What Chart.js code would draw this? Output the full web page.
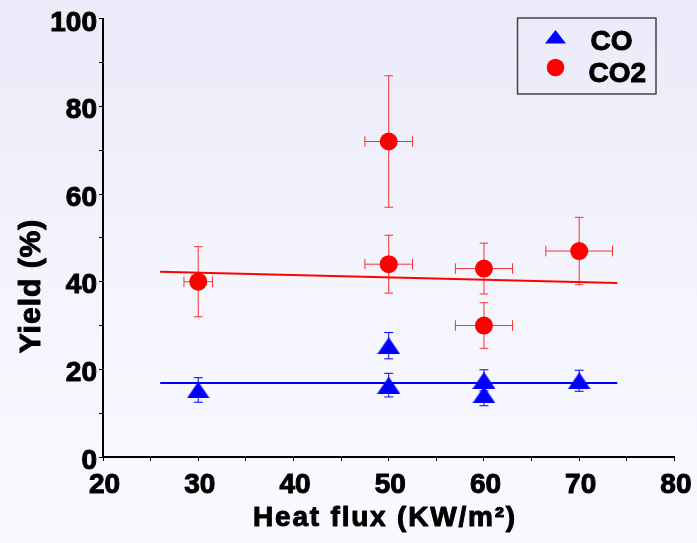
<!DOCTYPE html>
<html><head><meta charset="utf-8">
<script src="https://cdn.jsdelivr.net/npm/chart.js@4"></script>
<style>html,body{margin:0;padding:0;background:#f6f6fd;}#wrap{width:697px;height:543px;position:relative;}</style>
</head><body><div id="wrap"><canvas id="c" width="697" height="543"></canvas></div>
<script>
const xTicks = [20, 30, 40, 50, 60, 70, 80];
const yTicks = [0, 20, 40, 60, 80, 100];
const seriesNames = ['CO', 'CO2'];
const coX = [30, 50, 50, 60, 60, 70];
const coY = [15.3, 25.4, 16.4, 17.5, 14.2, 17.4];
const coYErr = [2.8, 3.0, 2.7, 2.4, 2.5, 2.4];
const co2X = [30, 50, 50, 60, 60, 70];
const co2Y = [40, 72, 44, 43, 30, 47];
const co2YErr = [8, 15, 6.6, 5.8, 5.2, 7.7];
const co2XErr = [1.5, 2.5, 2.5, 3, 3, 3.5];
const coFitX = [26, 74];
const coFitY = [16.9, 16.9];
const co2FitX = [26, 74];
const co2FitY = [42.3, 39.7];
const xTitle = 'Heat flux (KW/m²)';
const yTitle = 'Yield (%)';

const FONT = '"Liberation Sans", Arial, sans-serif';
const RED = '#ff0000', BLUE = '#0000ff';

function triImg(w, h, color) {
  const c = document.createElement('canvas');
  c.width = w; c.height = h;
  const g = c.getContext('2d');
  g.fillStyle = color;
  g.beginPath(); g.moveTo(w / 2, 0); g.lineTo(w, h); g.lineTo(0, h); g.closePath(); g.fill();
  return c;
}
const tri = triImg(23, 17, BLUE);

const bgPlugin = {
  id: 'bg',
  beforeDraw(chart) {
    const ctx = chart.ctx;
    const g = ctx.createLinearGradient(0, 0, 0, chart.height);
    g.addColorStop(0, '#eaeaf9');
    g.addColorStop(0.5, '#f4f4fd');
    g.addColorStop(1, '#f9f9ff');
    ctx.save(); ctx.fillStyle = g; ctx.fillRect(0, 0, chart.width, chart.height); ctx.restore();
  }
};

const errPlugin = {
  id: 'errs',
  beforeDatasetsDraw(chart) {
    const { ctx, scales: { x, y } } = chart;
    ctx.save();
    ctx.lineWidth = 1;
    ctx.strokeStyle = 'rgba(255,0,0,0.8)';
    for (let i = 0; i < co2X.length; i++) {
      const px = x.getPixelForValue(co2X[i]);
      const py = y.getPixelForValue(co2Y[i]);
      const t = y.getPixelForValue(co2Y[i] + co2YErr[i]);
      const b = y.getPixelForValue(co2Y[i] - co2YErr[i]);
      const l = x.getPixelForValue(co2X[i] - co2XErr[i]);
      const r = x.getPixelForValue(co2X[i] + co2XErr[i]);
      ctx.beginPath();
      ctx.moveTo(px, t); ctx.lineTo(px, b);
      ctx.moveTo(px - 4.3, t); ctx.lineTo(px + 4.3, t);
      ctx.moveTo(px - 4.3, b); ctx.lineTo(px + 4.3, b);
      ctx.moveTo(l, py); ctx.lineTo(r, py);
      ctx.moveTo(l, py - 5.3); ctx.lineTo(l, py + 5.3);
      ctx.moveTo(r, py - 5.3); ctx.lineTo(r, py + 5.3);
      ctx.stroke();
    }
    ctx.strokeStyle = BLUE;
    for (let i = 0; i < coX.length; i++) {
      const px = x.getPixelForValue(coX[i]);
      const t = y.getPixelForValue(coY[i] + coYErr[i]);
      const b = y.getPixelForValue(coY[i] - coYErr[i]);
      ctx.beginPath();
      ctx.moveTo(px, t); ctx.lineTo(px, b);
      ctx.moveTo(px - 4.5, t); ctx.lineTo(px + 4.5, t);
      ctx.moveTo(px - 4.5, b); ctx.lineTo(px + 4.5, b);
      ctx.stroke();
    }
    ctx.restore();
  }
};

function boldText(ctx, s, x, y) {
  ctx.fillText(s, x, y);
  ctx.strokeText(s, x, y);
}

const annoPlugin = {
  id: 'anno',
  afterDraw(chart) {
    const ctx = chart.ctx;
    ctx.save();
    ctx.fillStyle = '#000';
    ctx.strokeStyle = '#000';
    ctx.lineWidth = 1;
    ctx.lineJoin = 'round';
    ctx.font = 'bold 28px ' + FONT;
    ctx.letterSpacing = '1.8px';
    ctx.textAlign = 'center';
    ctx.textBaseline = 'alphabetic';
    boldText(ctx, xTitle, 385, 526);
    ctx.save();
    ctx.font = 'bold 30px ' + FONT;
    ctx.letterSpacing = '1px';
    ctx.translate(40, 286);
    ctx.rotate(-Math.PI / 2);
    boldText(ctx, yTitle, 0, 0);
    ctx.restore();
    ctx.letterSpacing = '0px';
    // legend
    ctx.strokeStyle = '#444';
    ctx.lineWidth = 1.5;
    ctx.strokeRect(517.5, 18, 138.5, 76);
    ctx.fillStyle = BLUE;
    ctx.beginPath(); ctx.moveTo(555.5, 30); ctx.lineTo(566, 43.5); ctx.lineTo(545, 43.5); ctx.closePath(); ctx.fill();
    ctx.fillStyle = RED;
    ctx.beginPath(); ctx.arc(555.5, 67.5, 8.8, 0, Math.PI * 2); ctx.fill();
    ctx.fillStyle = '#000';
    ctx.strokeStyle = '#000';
    ctx.lineWidth = 1;
    ctx.font = 'bold 28px ' + FONT;
    ctx.textAlign = 'left';
    boldText(ctx, seriesNames[0], 590.5, 50);
    boldText(ctx, seriesNames[1], 588.5, 81.5);
    ctx.restore();
  }
};

const pts = (xs, ys) => xs.map((v, i) => ({ x: v, y: ys[i] }));

new Chart(document.getElementById('c'), {
  type: 'scatter',
  data: {
    datasets: [
      { label: seriesNames[1], data: pts(co2X, co2Y), pointStyle: 'circle', pointRadius: 9, pointHoverRadius: 9, backgroundColor: RED, borderColor: RED, borderWidth: 0, order: 1 },
      { label: seriesNames[0], data: pts(coX, coY), pointStyle: tri, pointRadius: 10, backgroundColor: BLUE, borderColor: BLUE, borderWidth: 0, order: 2 },
      { type: 'line', label: 'CO2 fit', data: pts(co2FitX, co2FitY), borderColor: RED, borderWidth: 2, pointRadius: 0, fill: false, order: 3 },
      { type: 'line', label: 'CO fit', data: pts(coFitX, coFitY), borderColor: BLUE, borderWidth: 2, pointRadius: 0, fill: false, order: 4 }
    ]
  },
  options: {
    responsive: false,
    devicePixelRatio: 1,
    animation: false,
    layout: { padding: { top: 17, right: 20, left: 0, bottom: 0 } },
    plugins: { legend: { display: false }, tooltip: { enabled: false } },
    scales: {
      x: {
        type: 'linear', min: xTicks[0], max: xTicks[xTicks.length - 1],
        afterFit(s) { s.height = 86; },
        afterBuildTicks(s) { const t = []; for (let v = xTicks[0]; v <= xTicks[xTicks.length - 1]; v += 5) t.push({ value: v }); s.ticks = t; },
        ticks: { autoSkip: false, maxRotation: 0, color: '#000', padding: 7, labelOffset: 1.5,
          textStrokeColor: '#000', textStrokeWidth: 1,
          font: { family: FONT, size: 28, weight: 'bold' },
          callback: v => xTicks.includes(v) ? String(v) : '' },
        grid: { drawOnChartArea: false, drawTicks: true, tickLength: 4, color: '#000', lineWidth: 1 },
        border: { display: true, color: '#000', width: 2 }
      },
      y: {
        type: 'linear', min: yTicks[0], max: yTicks[yTicks.length - 1],
        afterFit(s) { s.width = 103; },
        afterBuildTicks(s) { const t = []; for (let v = yTicks[0]; v <= yTicks[yTicks.length - 1]; v += 10) t.push({ value: v }); s.ticks = t; },
        ticks: { autoSkip: false, color: '#000', padding: 2, labelOffset: 4,
          textStrokeColor: '#000', textStrokeWidth: 1,
          font: { family: FONT, size: 28, weight: 'bold' },
          callback: v => yTicks.includes(v) ? String(v) : '' },
        grid: { drawOnChartArea: false, drawTicks: true, tickLength: 4, color: '#000', lineWidth: 1 },
        border: { display: true, color: '#000', width: 2 }
      }
    }
  },
  plugins: [bgPlugin, errPlugin, annoPlugin]
});
</script></body></html>
